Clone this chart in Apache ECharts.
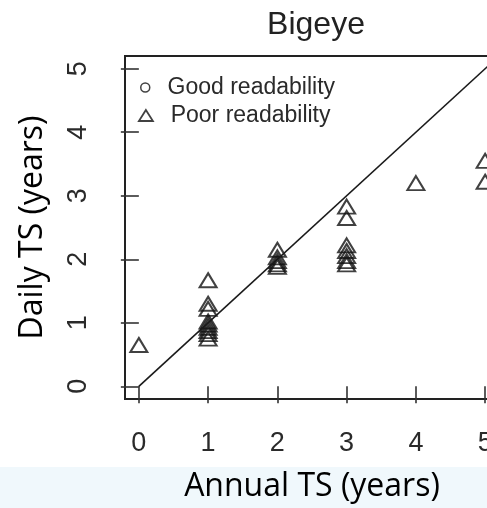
<!DOCTYPE html>
<html>
<head>
<meta charset="utf-8">
<script src="https://cdn.jsdelivr.net/npm/echarts@6/dist/echarts.min.js"></script>
<style>
  html, body { margin: 0; padding: 0; background: #fff; }
  #container { width: 487px; height: 508px; }
</style>
</head>
<body>
<div id="container"></div>
<script>
// tick values on both axes
var tickValues = [0, 1, 2, 3, 4, 5];

// Poor readability: annual TS (x) vs daily TS (y)
var poorAnnual = [0, 1, 1, 1, 1, 1, 1, 1, 1, 1, 2, 2, 2, 2, 2, 3, 3, 3, 3, 3, 3, 3, 4, 5, 5];
var poorDaily  = [0.65, 1.67, 1.3, 1.22, 1.02, 0.97, 0.92, 0.87, 0.82, 0.75,
                  2.15, 2.03, 1.97, 1.92, 1.88,
                  2.83, 2.65, 2.22, 2.13, 2.05, 1.97, 1.92,
                  3.2, 3.55, 3.22];

// Good readability: none visible outside the clusters
var goodAnnual = [];
var goodDaily = [];

// 1:1 reference line
var lineX = [0, 5.2];
var lineY = [0, 5.2];

function pairs(xs, ys) {
  var out = [];
  for (var i = 0; i < xs.length; i++) out.push([xs[i], ys[i]]);
  return out;
}

var dom = document.getElementById('container');
var myChart = echarts.init(dom, null, { renderer: 'canvas' });

var axisFont = { fontFamily: 'Liberation Sans', fontSize: 27, color: '#2a2a2a' };
var nameFont = { fontFamily: 'Open Sans', fontSize: 32, color: '#000' };
var legendText = { fontFamily: 'Liberation Sans', fontSize: 23, color: '#2a2a2a' };

var option = {
  animation: false,
  backgroundColor: '#fff',
  title: {
    text: 'Bigeye',
    left: 311,
    textAlign: 'center',
    top: 4,
    textStyle: { fontFamily: 'Liberation Sans', fontSize: 32, fontWeight: 'normal', color: '#222' }
  },
  graphic: [{
    type: 'rect',
    z: -10,
    shape: { x: 0, y: 467, width: 487, height: 41 },
    style: { fill: 'rgb(240,248,252)' }
  }],
  legend: [{
    data: [{ name: 'Good readability', icon: 'circle' }],
    left: 140, top: 76, padding: 0,
    itemWidth: 9, itemHeight: 9, itemGap: 0,
    formatter: '  {name}',
    textStyle: legendText,
    itemStyle: { borderWidth: 1.5 }
  }, {
    data: [{ name: 'Poor readability', icon: 'triangle' }],
    left: 138, top: 104, padding: 0,
    itemWidth: 14, itemHeight: 11, itemGap: 0,
    formatter: '  {name}',
    textStyle: legendText,
    itemStyle: { borderWidth: 1.8 }
  }],
  grid: {
    left: 125, top: 56, right: -12, bottom: 109,
    outerBoundsMode: 'none',
    show: true, borderColor: '#222', borderWidth: 2, backgroundColor: 'transparent'
  },
  xAxis: {
    type: 'value', min: -0.2, max: 5.2,
    name: 'Annual TS (years)', nameLocation: 'middle', nameGap: 72,
    nameTextStyle: nameFont,
    axisLine: { show: false },
    axisTick: { show: true, customValues: tickValues, length: 17, lineStyle: { color: '#333', width: 1.6 } },
    axisLabel: { customValues: tickValues, margin: 31, fontFamily: axisFont.fontFamily, fontSize: axisFont.fontSize, color: axisFont.color },
    splitLine: { show: false }
  },
  yAxis: {
    type: 'value', min: -0.2, max: 5.2,
    name: 'Daily TS (years)', nameLocation: 'middle', nameGap: 76,
    nameTextStyle: nameFont,
    axisLine: { show: false },
    axisTick: { show: true, customValues: tickValues, length: 18, lineStyle: { color: '#333', width: 1.6 } },
    axisLabel: { customValues: tickValues, rotate: 90, margin: 33, fontFamily: axisFont.fontFamily, fontSize: axisFont.fontSize, color: axisFont.color },
    splitLine: { show: false }
  },
  series: [{
    name: 'Good readability',
    type: 'scatter',
    symbol: 'circle',
    symbolSize: 10,
    itemStyle: { color: 'rgba(0,0,0,0)', borderColor: '#111', borderWidth: 1.8 },
    data: pairs(goodAnnual, goodDaily)
  }, {
    name: 'Poor readability',
    type: 'scatter',
    symbol: 'triangle',
    symbolSize: [17, 14],
    itemStyle: { color: 'rgba(0,0,0,0)', borderColor: '#111', borderWidth: 2 },
    data: pairs(poorAnnual, poorDaily)
  }, {
    name: 'One to one',
    type: 'line',
    symbol: 'none',
    silent: true,
    lineStyle: { color: '#1a1a1a', width: 1.6 },
    data: pairs(lineX, lineY)
  }]
};

myChart.setOption(option);
</script>
</body>
</html>
